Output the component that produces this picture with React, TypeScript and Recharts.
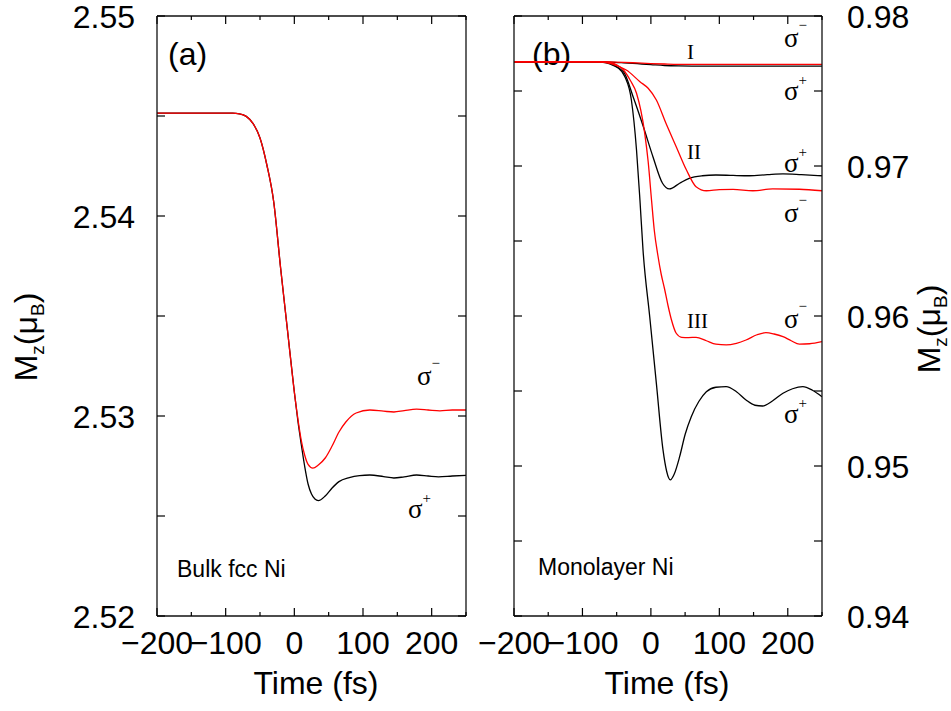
import { LineChart, Line, XAxis, YAxis } from "recharts";

const SANS = "'Liberation Sans', Arial, Helvetica, sans-serif";
const SERIF = "'Liberation Serif', 'Times New Roman', serif";

// time axis, fs
const timeMajor = [-200, -100, 0, 100, 200];
const timeMinor = [-150, -50, 50, 150, 250];

// moment axes, mu_B
const bulkMajor = [2.52, 2.53, 2.54, 2.55];
const bulkMinor = [2.525, 2.535, 2.545];
const monoMajor = [0.94, 0.95, 0.96, 0.97, 0.98];
const monoMinor = [0.945, 0.955, 0.965, 0.975];

// (a) bulk fcc Ni, [t, Mz]
const bulkSigmaMinus: [number, number][] = [
  [-200, 2.54514], [-120, 2.54514], [-90, 2.54514], [-80, 2.54511], [-70, 2.54498],
  [-60, 2.54462], [-50, 2.5439], [-40, 2.54255], [-30, 2.5407], [-20, 2.5374],
  [-10, 2.5343], [0, 2.5312], [5, 2.5299], [10, 2.5288], [15, 2.52805], [20, 2.52758],
  [27, 2.52739], [35, 2.52755], [45, 2.5279], [55, 2.5285], [65, 2.5292], [75, 2.5297],
  [90, 2.53015], [110, 2.5303], [130, 2.53024], [145, 2.5302], [160, 2.53027],
  [178, 2.53034], [195, 2.5303], [212, 2.53026], [230, 2.5303], [250, 2.5303],
];
const bulkSigmaPlus: [number, number][] = [
  [-200, 2.54514], [-120, 2.54514], [-90, 2.54514], [-80, 2.54511], [-70, 2.54498],
  [-60, 2.54462], [-50, 2.5439], [-40, 2.54255], [-30, 2.5407], [-20, 2.5374],
  [-10, 2.5343], [0, 2.5312], [5, 2.5298], [10, 2.5286], [15, 2.5275], [20, 2.5266],
  [25, 2.5261], [30, 2.52585], [35, 2.52577], [45, 2.526], [55, 2.5264], [65, 2.52672],
  [80, 2.52692], [95, 2.52702], [110, 2.52705], [130, 2.52697], [145, 2.5269],
  [160, 2.52696], [178, 2.52705], [195, 2.527], [210, 2.52696], [230, 2.527], [250, 2.52703],
];

// (b) monolayer Ni, cases I, II, III
const monoIMinus: [number, number][] = [
  [-200, 0.97695], [-80, 0.97695], [-60, 0.97694], [-40, 0.97691], [-20, 0.97687],
  [0, 0.97683], [20, 0.9768], [40, 0.97678], [60, 0.97678], [150, 0.97678], [250, 0.97678],
];
const monoIPlus: [number, number][] = [
  [-200, 0.97695], [-80, 0.97695], [-60, 0.97693], [-40, 0.97688], [-20, 0.97682],
  [0, 0.97676], [20, 0.9767], [40, 0.97667], [60, 0.97666], [150, 0.97666], [250, 0.97666],
];
const monoIIPlus: [number, number][] = [
  [-200, 0.97695], [-80, 0.97695], [-65, 0.97688], [-55, 0.9767], [-40, 0.97629],
  [-26, 0.97462], [-11, 0.97262], [3, 0.97062], [17, 0.96885], [27, 0.96847],
  [42, 0.96885], [56, 0.96918], [75, 0.96935], [95, 0.9694], [120, 0.96937],
  [144, 0.96935], [170, 0.96942], [193, 0.96947], [220, 0.96942], [250, 0.96935],
];
const monoIIMinus: [number, number][] = [
  [-200, 0.97695], [-80, 0.97695], [-60, 0.97685], [-48, 0.97665], [-36, 0.9764],
  [-16, 0.97562], [-4, 0.97518], [8, 0.9744], [22, 0.97285], [37, 0.97129],
  [52, 0.96973], [66, 0.96862], [81, 0.96835], [100, 0.96842], [120, 0.96844],
  [149, 0.96835], [178, 0.96847], [217, 0.96845], [250, 0.96835],
];
const monoIIIMinus: [number, number][] = [
  [-200, 0.97695], [-80, 0.97695], [-60, 0.9769], [-50, 0.97675], [-40, 0.9764],
  [-30, 0.9757], [-21, 0.97485], [-9, 0.97218], [-4, 0.9703], [1, 0.9677],
  [5, 0.9657], [10, 0.9641], [15, 0.9628], [20, 0.9618], [25, 0.9607], [30, 0.95975],
  [37, 0.95885], [45, 0.95858], [55, 0.95856], [66, 0.95858], [81, 0.95835],
  [95, 0.95812], [110, 0.95807], [125, 0.95818], [139, 0.9584], [155, 0.95875],
  [168, 0.95889], [180, 0.9588], [193, 0.95862], [205, 0.95835], [217, 0.95813],
  [232, 0.95815], [250, 0.95829],
];
const monoIIIPlus: [number, number][] = [
  [-200, 0.97695], [-80, 0.97695], [-60, 0.97688], [-50, 0.97662], [-38, 0.97595],
  [-28.5, 0.9744], [-21, 0.97107], [-16, 0.96773], [-11.5, 0.9644], [-1.7, 0.95995],
  [8, 0.95551], [17.7, 0.95107], [23, 0.94965], [28.4, 0.94907], [34, 0.94945],
  [42, 0.95062], [50, 0.9521], [59, 0.95329], [70, 0.9543], [81, 0.95495],
  [95, 0.95525], [110, 0.95529], [125, 0.95495], [139, 0.9544], [152, 0.95405],
  [163, 0.954], [178, 0.95435], [193, 0.95485], [207, 0.95515], [222, 0.95529],
  [236, 0.95505], [250, 0.95462],
];

const pts = (s: [number, number][]) => s.map(([t, m]) => ({ t, m }));
const merge = (a: number[], b: number[]) => [...a, ...b].sort((p, q) => p - q);
const fmtTime = (v: number) => (v < 0 ? `\u2212${-v}` : `${v}`);
const fmtMoment = (v: number) => v.toFixed(2);

const RED = "#ff0000";
const BLACK = "#000000";
const FRAME = { stroke: "#111", strokeWidth: 1.3 };

// inward tick marks; labels only on major values
function makeTick(
  side: "left" | "right" | "top" | "bottom",
  gap: number,
  majors: number[],
  fmt?: (v: number) => string,
  minorLen = 8,
) {
  return (props: any) => {
    const { x, y, payload } = props;
    const v = payload.value;
    const major = majors.some((m) => Math.abs(m - v) < 1e-9);
    const len = major ? 8 : minorLen;
    let mark;
    let label = null;
    if (side === "left") {
      const ax = x + gap;
      mark = <line x1={ax} x2={ax + len} y1={y} y2={y} stroke="#000" strokeWidth={1.2} />;
      if (fmt && major) label = <text x={x} y={y} dy="0.36em" textAnchor="end">{fmt(v)}</text>;
    } else if (side === "right") {
      const ax = x - gap;
      mark = <line x1={ax} x2={ax - len} y1={y} y2={y} stroke="#000" strokeWidth={1.2} />;
      if (fmt && major) label = <text x={x} y={y} dy="0.36em" textAnchor="start">{fmt(v)}</text>;
    } else if (side === "bottom") {
      const ay = y - gap;
      mark = <line x1={x} x2={x} y1={ay} y2={ay - len} stroke="#000" strokeWidth={1.2} />;
      if (fmt && major) label = <text x={x} y={y} textAnchor="middle">{fmt(v)}</text>;
    } else {
      const ay = y + gap;
      mark = <line x1={x} x2={x} y1={ay} y2={ay + len} stroke="#000" strokeWidth={1.2} />;
    }
    return (
      <g fontFamily={SANS} fontSize={32} fill="#000">
        {mark}
        {label}
      </g>
    );
  };
}

function Sigma({ x, y, sign }: { x: number; y: number; sign: string }) {
  return (
    <text x={x} y={y} fontFamily={SERIF} fontSize={27} fill="#000">
      σ
      <tspan dy={sign === "+" ? -15 : -17} fontSize={15}>{sign}</tspan>
    </text>
  );
}

function Roman({ x, y, text }: { x: number; y: number; text: string }) {
  return (
    <text x={x} y={y} fontFamily={SERIF} fontSize={21} fill="#000">{text}</text>
  );
}

function MomentTitle({ x, y }: { x: number; y: number }) {
  return (
    <text
      transform={`translate(${x},${y}) rotate(-90)`}
      textAnchor="middle"
      fontFamily={SANS}
      fontSize={32}
      fill="#000"
    >
      M<tspan fontSize={19} dy={7}>z</tspan>
      <tspan dy={-7}>(μ</tspan>
      <tspan fontSize={19} dy={7}>B</tspan>
      <tspan dy={-7}>)</tspan>
    </text>
  );
}

function TimeTitle({ x, y }: { x: number; y: number }) {
  return (
    <text x={x} y={y} textAnchor="middle" fontFamily={SANS} fontSize={32} fill="#000">
      Time (fs)
    </text>
  );
}

const timeTicks = merge(timeMajor, timeMinor);
const bulkTicks = merge(bulkMajor, bulkMinor);
const monoTicks = merge(monoMajor, monoMinor);

function BulkPanel() {
  return (
    <LineChart width={480} height={711} margin={{ top: 6, right: 4, bottom: 35, left: 57 }}>
      <XAxis
        dataKey="t" type="number" domain={[-200, 250]} ticks={timeTicks} interval={0}
        allowDataOverflow axisLine={FRAME} tickLine={false} tickSize={0} tickMargin={38}
        height={60} tick={makeTick("bottom", 38, timeMajor, fmtTime, 4)}
      />
      <XAxis
        xAxisId="top" orientation="top" dataKey="t" type="number" domain={[-200, 250]}
        ticks={timeTicks} interval={0} allowDataOverflow axisLine={FRAME} tickLine={false}
        tickSize={0} tickMargin={0} height={10} tick={makeTick("top", 0, timeMajor, undefined, 4)}
      />
      <YAxis
        type="number" domain={[2.52, 2.55]} ticks={bulkTicks} interval={0} allowDataOverflow
        axisLine={FRAME} tickLine={false} tickSize={0} tickMargin={22} width={100}
        tick={makeTick("left", 22, bulkMajor, fmtMoment)}
      />
      <YAxis
        yAxisId="right" orientation="right" type="number" domain={[2.52, 2.55]} ticks={bulkTicks}
        interval={0} allowDataOverflow axisLine={FRAME} tickLine={false} tickSize={0}
        tickMargin={0} width={10} tick={makeTick("right", 0, bulkMajor)}
      />
      <Line data={pts(bulkSigmaPlus)} dataKey="m" type="monotone" stroke={BLACK} strokeWidth={1.3} dot={false} isAnimationActive={false} />
      <Line data={pts(bulkSigmaMinus)} dataKey="m" type="monotone" stroke={RED} strokeWidth={1.3} dot={false} isAnimationActive={false} />
      <text x={168} y={65} fontFamily={SANS} fontSize={32} fill="#000">(a)</text>
      <text x={177} y={577} fontFamily={SANS} fontSize={23} fill="#000">Bulk fcc Ni</text>
      <Sigma x={417} y={385} sign="−" />
      <Sigma x={408} y={518} sign="+" />
      <TimeTitle x={316} y={694} />
      <MomentTitle x={37} y={337} />
    </LineChart>
  );
}

// panel (b) svg starts 450px from the page's left edge
function MonolayerPanel() {
  return (
    <LineChart width={501} height={711} margin={{ top: 6, right: 29, bottom: 35, left: 54 }}>
      <XAxis
        dataKey="t" type="number" domain={[-200, 250]} ticks={timeTicks} interval={0}
        allowDataOverflow axisLine={FRAME} tickLine={false} tickSize={0} tickMargin={38}
        height={60} tick={makeTick("bottom", 38, timeMajor, fmtTime, 4)}
      />
      <XAxis
        xAxisId="top" orientation="top" dataKey="t" type="number" domain={[-200, 250]}
        ticks={timeTicks} interval={0} allowDataOverflow axisLine={FRAME} tickLine={false}
        tickSize={0} tickMargin={0} height={10} tick={makeTick("top", 0, timeMajor, undefined, 4)}
      />
      <YAxis
        yAxisId="left" type="number" domain={[0.94, 0.98]} ticks={monoTicks} interval={0}
        allowDataOverflow axisLine={FRAME} tickLine={false} tickSize={0} tickMargin={0}
        width={10} tick={makeTick("left", 0, monoMajor)}
      />
      <YAxis
        orientation="right" type="number" domain={[0.94, 0.98]} ticks={monoTicks} interval={0}
        allowDataOverflow axisLine={FRAME} tickLine={false} tickSize={0} tickMargin={25}
        width={100} tick={makeTick("right", 25, monoMajor, fmtMoment)}
      />
      <Line data={pts(monoIPlus)} dataKey="m" type="monotone" stroke={BLACK} strokeWidth={1.3} dot={false} isAnimationActive={false} />
      <Line data={pts(monoIIPlus)} dataKey="m" type="monotone" stroke={BLACK} strokeWidth={1.3} dot={false} isAnimationActive={false} />
      <Line data={pts(monoIIIPlus)} dataKey="m" type="monotone" stroke={BLACK} strokeWidth={1.3} dot={false} isAnimationActive={false} />
      <Line data={pts(monoIMinus)} dataKey="m" type="monotone" stroke={RED} strokeWidth={1.3} dot={false} isAnimationActive={false} />
      <Line data={pts(monoIIMinus)} dataKey="m" type="monotone" stroke={RED} strokeWidth={1.3} dot={false} isAnimationActive={false} />
      <Line data={pts(monoIIIMinus)} dataKey="m" type="monotone" stroke={RED} strokeWidth={1.3} dot={false} isAnimationActive={false} />
      <text x={82} y={65} fontFamily={SANS} fontSize={32} fill="#000">(b)</text>
      <text x={88} y={575} fontFamily={SANS} fontSize={23} fill="#000">Monolayer Ni</text>
      <Roman x={237} y={59} text="I" />
      <Roman x={237} y={159} text="II" />
      <Roman x={237} y={328} text="III" />
      <Sigma x={334} y={47} sign="−" />
      <Sigma x={334} y={100} sign="+" />
      <Sigma x={334} y={172} sign="+" />
      <Sigma x={334} y={222} sign="−" />
      <Sigma x={334} y={328} sign="−" />
      <Sigma x={334} y={423} sign="+" />
      <TimeTitle x={217} y={694} />
      <MomentTitle x={490} y={329} />
    </LineChart>
  );
}

export default function App() {
  return (
    <div style={{ position: "absolute", left: 0, top: 0, width: 951, height: 711, background: "#fff" }}>
      <div style={{ position: "absolute", left: 0, top: 0 }}>
        <BulkPanel />
      </div>
      <div style={{ position: "absolute", left: 450, top: 0 }}>
        <MonolayerPanel />
      </div>
    </div>
  );
}
